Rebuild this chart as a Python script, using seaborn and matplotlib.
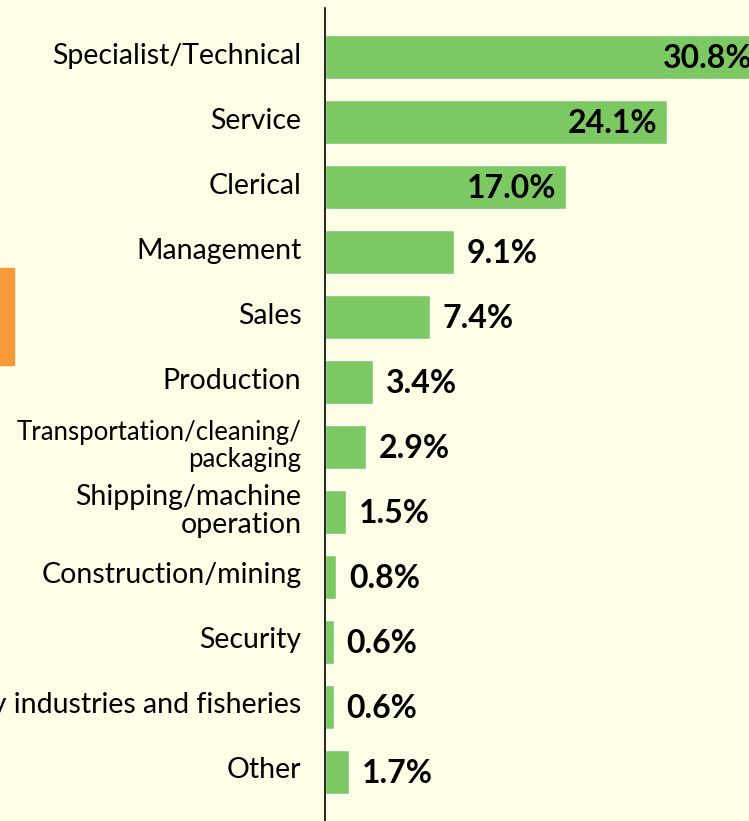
import matplotlib
matplotlib.use("Agg")
import matplotlib.pyplot as plt
import matplotlib.patches as mpatches
import matplotlib.transforms as mtransforms
import seaborn as sns
import pandas as pd

categories = [
    "Specialist/Technical",
    "Service",
    "Clerical",
    "Management",
    "Sales",
    "Production",
    "Transportation/cleaning/\npackaging",
    "Shipping/machine\noperation",
    "Construction/mining",
    "Security",
    "Agriculture/forestry industries and fisheries",
    "Other",
]
shares = [30.8, 24.1, 17.0, 9.1, 7.4, 3.4, 2.9, 1.5, 0.8, 0.6, 0.6, 1.7]

bg = "#FEFEE6"
bar_color = "#7CC862"

df = pd.DataFrame({"category": categories, "share": shares})

sns.set_style("white")
plt.rcParams["font.family"] = ["Lato", "DejaVu Sans"]

fig = plt.figure(figsize=(7.49, 8.21), dpi=100, facecolor=bg)
# axes sticks out past the right edge, like the original slide crop
ax = fig.add_axes([325 / 749, 0, 454 / 749, 813 / 821])
ax.set_facecolor(bg)

sns.barplot(data=df, x="share", y="category", color=bar_color,
            saturation=1, width=0.69, ax=ax)

ax.set_xlim(0, 32)
ax.set_ylim(len(categories) - 0.246, -0.754)
ax.set_xlabel("")
ax.set_ylabel("")
ax.set_xticks([])
ax.tick_params(axis="y", length=0, pad=17, labelsize=20.5, labelcolor="black")
shift_up = mtransforms.ScaledTranslation(0, 4 / 100, fig.dpi_scale_trans)
for lab in ax.get_yticklabels():
    lab.set_linespacing(1.08)
    lab.set_transform(lab.get_transform() + shift_up)
    if lab.get_text().startswith("Transportation"):
        lab.set_fontsize(18.5)

for s in ["top", "right", "bottom"]:
    ax.spines[s].set_visible(False)
ax.spines["left"].set_color("black")
ax.spines["left"].set_linewidth(1.2)

# value labels: inside for the long bars, outside for the rest
for i, v in enumerate(shares):
    if v >= 15:
        ax.annotate(f"{v:.1f}%", (v, i), xytext=(-7, -1), textcoords="offset points",
                    ha="right", va="center", fontsize=23, fontweight="bold",
                    color="black")
    else:
        ax.annotate(f"{v:.1f}%", (v, i), xytext=(9, -1), textcoords="offset points",
                    ha="left", va="center", fontsize=23, fontweight="bold",
                    color="black")

# orange marker on the left edge
fig.patches.append(mpatches.Rectangle((0, 1 - 365 / 821), 14 / 749, 97 / 821,
                                      transform=fig.transFigure, color="#F79839",
                                      zorder=0))

fig.savefig("out.png", dpi=100, facecolor=bg)
